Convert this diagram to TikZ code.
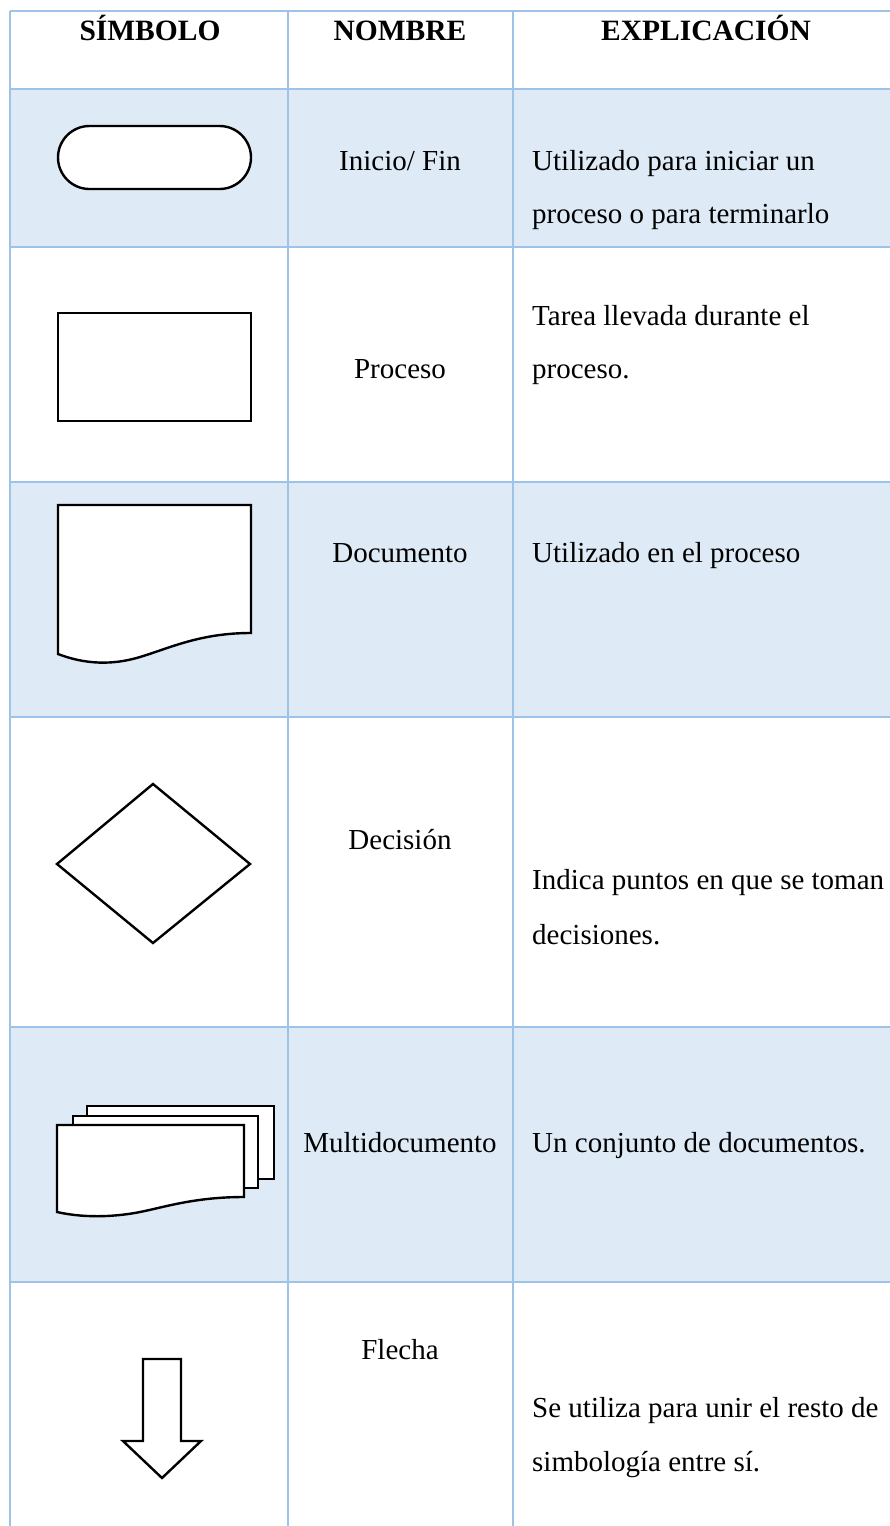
\documentclass[tikz,border=0pt]{standalone}
\usepackage{fontspec}
\setmainfont{Liberation Serif}
\definecolor{rowblue}{HTML}{DEEAF6}
\definecolor{gridblue}{HTML}{9DC3E6}
\begin{document}
\begin{tikzpicture}[x=1pt,y=-1pt,
  grid/.style={draw=gridblue,line width=1.8pt},
  sym/.style={draw=black,line width=2.4pt,fill=white,line join=miter},
  txt/.style={anchor=base,inner sep=0pt,font=\fontsize{29}{54}\selectfont},
  hdr/.style={anchor=base,inner sep=0pt,font=\fontsize{29.5}{54}\selectfont\bfseries},
  expl/.style={anchor=base west,inner sep=0pt,font=\fontsize{29}{54}\selectfont}]
\useasboundingbox (0,0) rectangle (890,1526);
% row fills
\fill[rowblue] (10,89) rectangle (890,247);
\fill[rowblue] (10,482) rectangle (890,717);
\fill[rowblue] (10,1027) rectangle (890,1282);
% grid
\foreach \yy in {11,247,482,717,1027,1282}{\draw[grid] (10,\yy) -- (890,\yy);}
\draw[grid,line width=2.8pt] (10,89) -- (890,89);
\foreach \xx in {10,288,513}{\draw[grid] (\xx,11) -- (\xx,1526);}
% header
\node[hdr] (h1) at (150,40) {SÍMBOLO};
\node[hdr] (h2) at (400,40) {NOMBRE};
\node[hdr] (h3) at (706,40) {EXPLICACIÓN};
% row 1 terminator
\draw[sym,rounded corners=31.5pt] (58,126) rectangle (251,189);
\node[txt] (n1) at (400,170) {Inicio/ Fin};
\node[expl] (e1a) at (532,170) {Utilizado para iniciar un};
\node[expl] (e1b) at (532,223) {proceso o para terminarlo};
% row 2 process
\draw[sym] (58,313) rectangle (251,421);
\node[txt] (n2) at (400,378) {Proceso};
\node[expl] (e2a) at (532,325) {Tarea llevada durante el};
\node[expl] (e2b) at (532,378) {proceso.};
% row 3 document
\draw[sym] (58,654) -- (58,505) -- (251,505) -- (251,633)
  .. controls (200,633) and (170,648) .. (140,657)
  .. controls (120,663) and (92,667) .. cycle;
\node[txt] (n3) at (400,562) {Documento};
\node[expl] (e3) at (532,562) {Utilizado en el proceso};
% row 4 decision
\draw[sym] (57,864) -- (153,784) -- (250,864) -- (153,943) -- cycle;
\node[txt] (n4) at (400,849) {Decisión};
\node[expl] (e4a) at (532,889) {Indica puntos en que se toman};
\node[expl] (e4b) at (532,944) {decisiones.};
% row 5 multidocument
\draw[sym] (87,1106) rectangle (274,1179);
\draw[sym] (73,1116) rectangle (258,1188);
\draw[sym] (57,1212) -- (57,1125) -- (244,1125) -- (244,1197)
  .. controls (195,1197) and (165,1207) .. (140,1212)
  .. controls (120,1216) and (88,1219) .. cycle;
\node[txt] (n5) at (400,1152) {Multidocumento};
\node[expl] (e5) at (532,1152) {Un conjunto de documentos.};
% row 6 arrow
\draw[sym] (143,1359) -- (181,1359) -- (181,1441) -- (201,1441) -- (162,1478) -- (123,1441) -- (143,1441) -- cycle;
\node[txt] (n6) at (400,1359) {Flecha};
\node[expl] (e6a) at (532,1417) {Se utiliza para unir el resto de};
\node[expl] (e6b) at (532,1471) {simbología entre sí.};
\end{tikzpicture}
\end{document}
